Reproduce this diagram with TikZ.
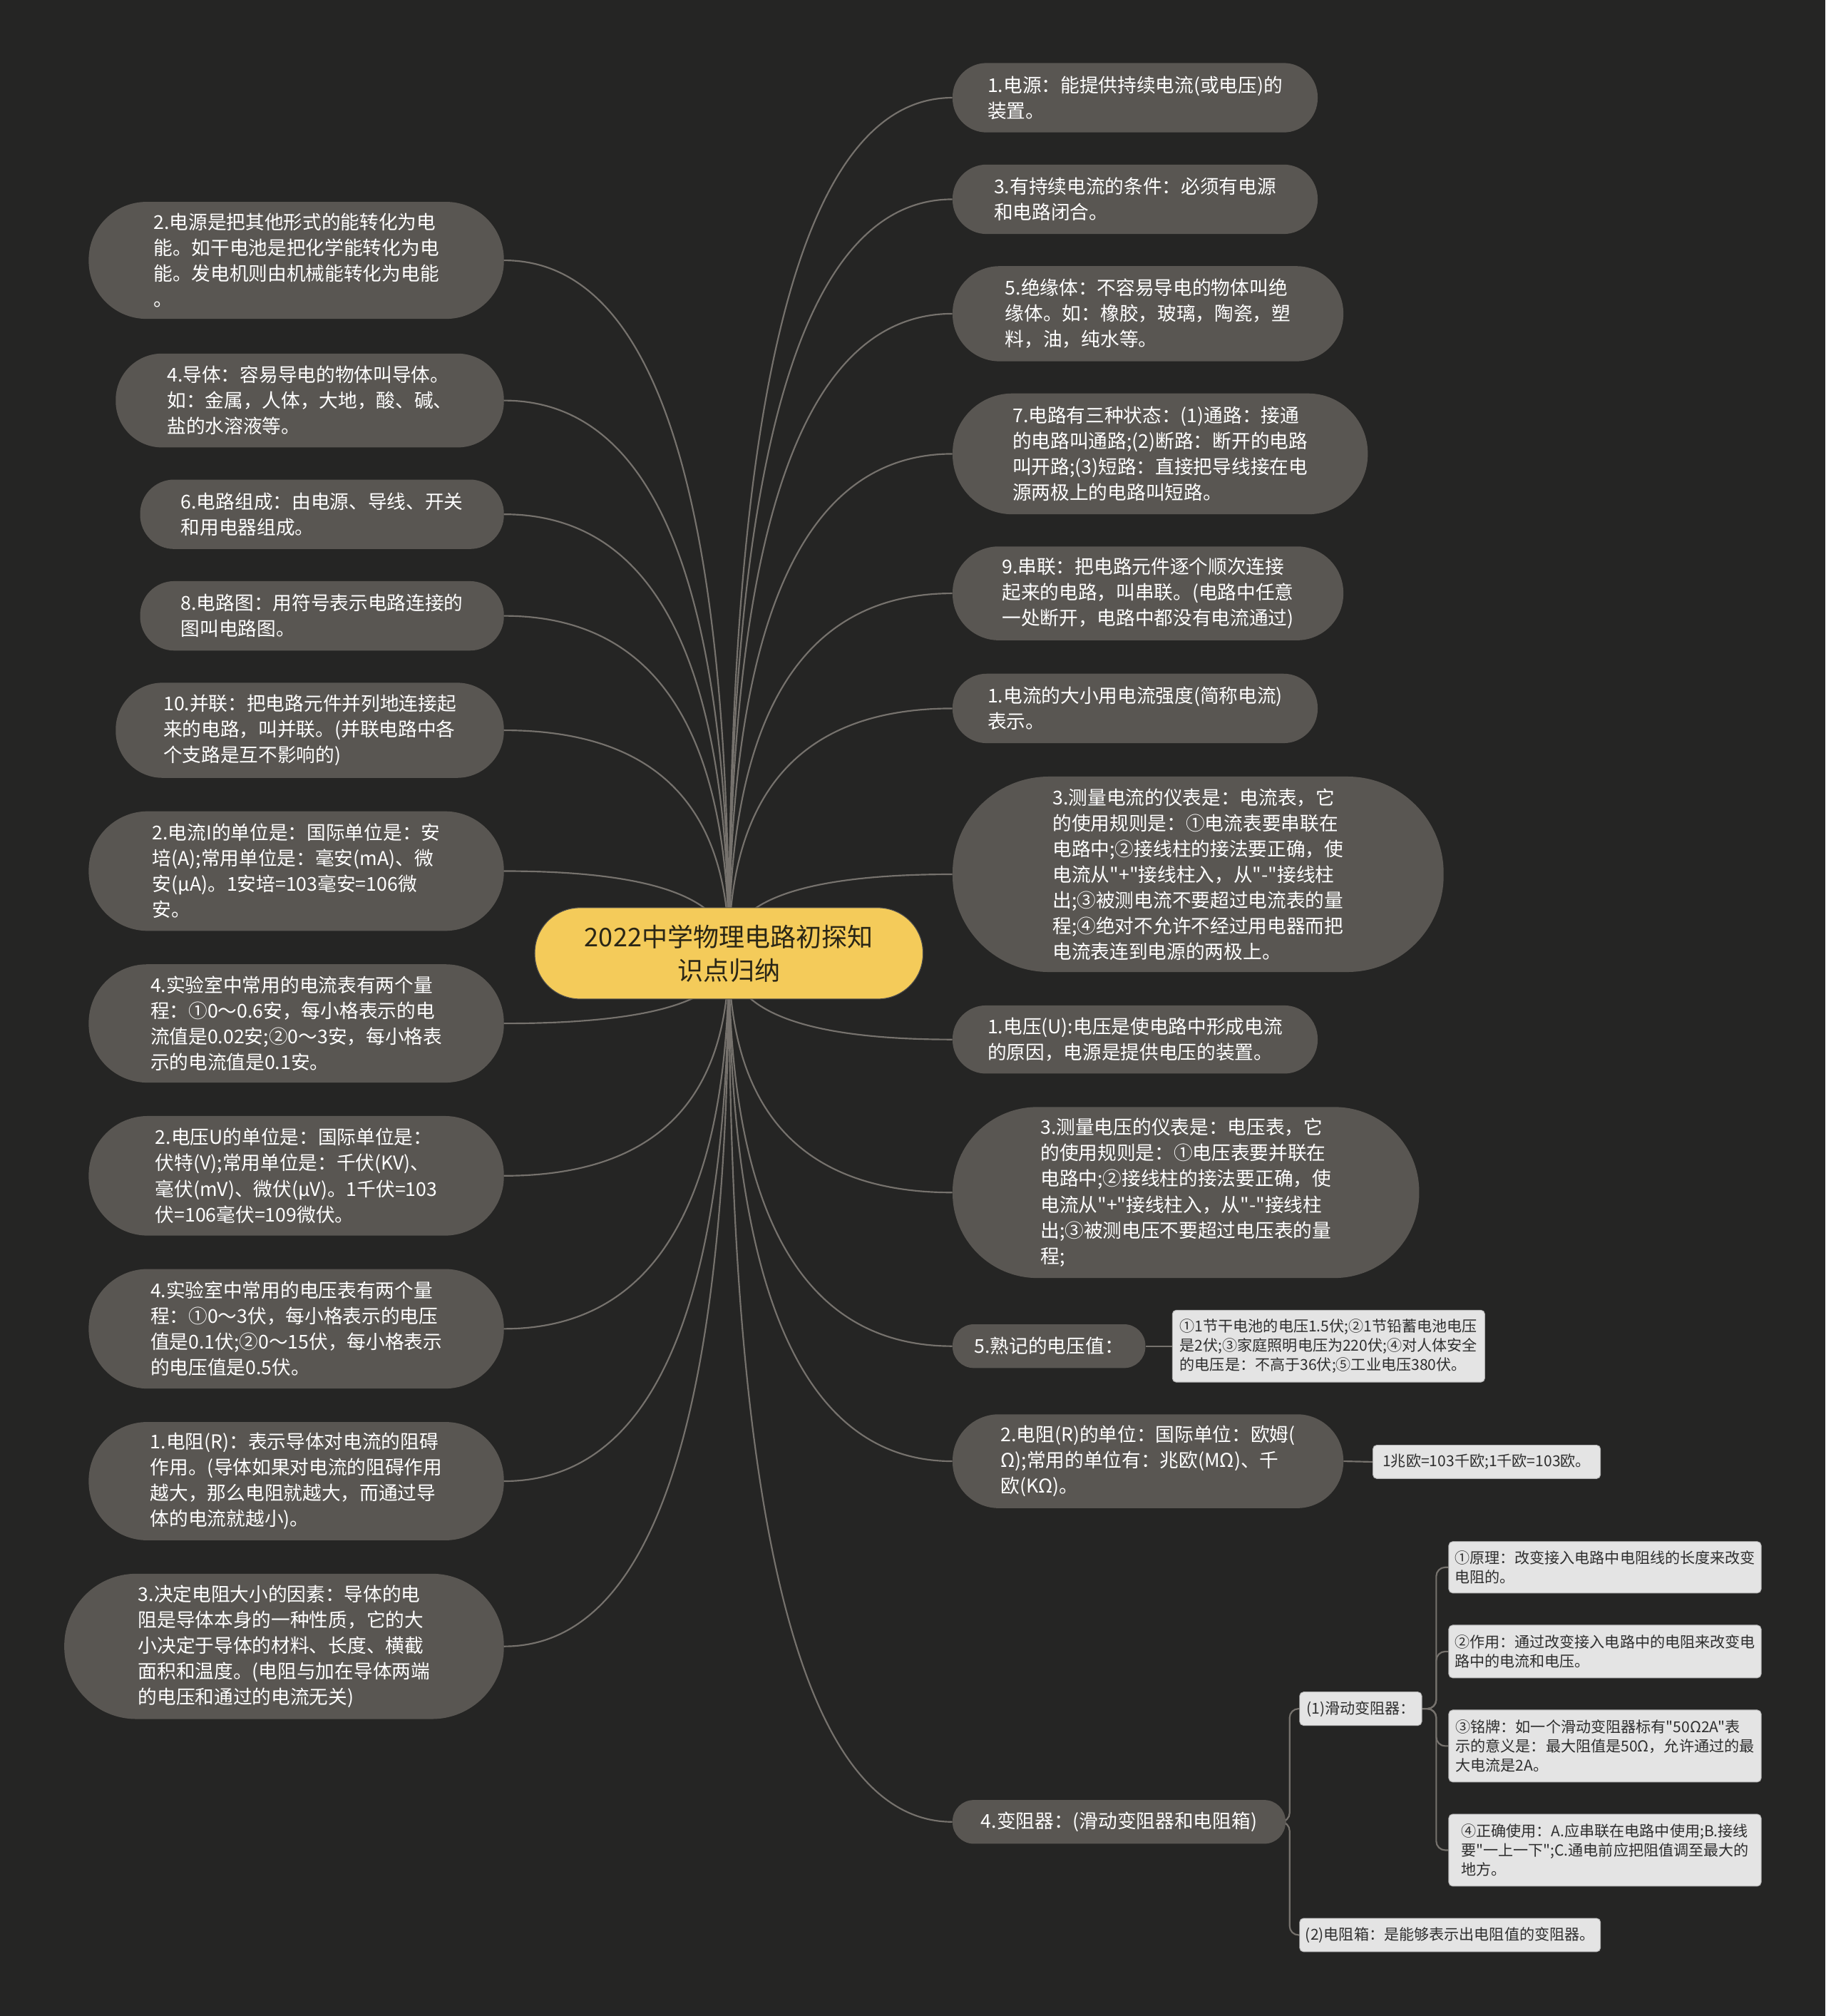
\documentclass[tikz,border=0pt]{standalone}
\usepackage{fontspec}
\setmainfont{Noto Sans CJK SC}[Ligatures=TeXOff]
\usetikzlibrary{calc}
\definecolor{bgc}{HTML}{252524}
\definecolor{boxc}{HTML}{595652}
\definecolor{linec}{HTML}{76726D}
\definecolor{lightc}{HTML}{E4E4E4}
\definecolor{lighttxt}{HTML}{2E2E2E}
\definecolor{rootc}{HTML}{F4CB5A}
\definecolor{roottxt}{HTML}{2A2616}
\pgfdeclarelayer{bg}
\pgfsetlayers{bg,main}
\newcommand\mmlink[2]{\draw[link] (#1) .. controls ($(#1)!0.667!(#1|-#2)$) and ($(#2)!0.667!(#1|-#2)$) .. (#2);}
\begin{document}
\begin{tikzpicture}[x=1pt,y=-1pt,
  mainbox/.style={fill=boxc, text=white, inner sep=0pt, align=left, font=\fontsize{14.8}{20}\selectfont},
  lightbox/.style={fill=lightc, draw=black!30, line width=0.5pt, rounded corners=3pt, text=lighttxt, inner sep=0pt, align=left, font=\fontsize{11.7}{15}\selectfont},
  rootbox/.style={fill=rootc, draw=black!70, line width=0.6pt, text=roottxt, inner sep=0pt, align=center, font=\fontsize{20}{26}\selectfont},
  link/.style={draw=linec, line width=1.2pt},
  sublink/.style={draw=linec, line width=1.2pt, rounded corners=7pt}]
\useasboundingbox (0,0) rectangle (1420,1568);

% root
\node[rootbox, minimum width=302pt, minimum height=71pt, rounded corners=35pt] (C) at (567,741.5) {2022中学物理电路初探知\\识点归纳};

% left branches
\node[mainbox, minimum width=323pt, minimum height=91pt, rounded corners=45pt] (L1) at (230.5,202.5) {2.电源是把其他形式的能转化为电\\能。如干电池是把化学能转化为电\\能。发电机则由机械能转化为电能\\。};
\node[mainbox, minimum width=302pt, minimum height=73pt, rounded corners=36pt] (L2) at (241,311.5) {4.导体：容易导电的物体叫导体。\\如：金属，人体，大地，酸、碱、\\盐的水溶液等。};
\node[mainbox, minimum width=283pt, minimum height=54pt, rounded corners=26.5pt] (L3) at (250.5,400) {6.电路组成：由电源、导线、开关\\和用电器组成。};
\node[mainbox, minimum width=283pt, minimum height=54pt, rounded corners=26.5pt] (L4) at (250.5,479) {8.电路图：用符号表示电路连接的\\图叫电路图。};
\node[mainbox, minimum width=302pt, minimum height=74pt, rounded corners=36.5pt] (L5) at (241,568) {10.并联：把电路元件并列地连接起\\来的电路，叫并联。(并联电路中各\\个支路是互不影响的)};
\node[mainbox, minimum width=323pt, minimum height=93pt, rounded corners=46pt] (L6) at (230.5,677.5) {2.电流I的单位是：国际单位是：安\\培(A);常用单位是：毫安(mA)、微\\安(μA)。1安培=103毫安=106微\\安。};
\node[mainbox, minimum width=323pt, minimum height=92pt, rounded corners=45.5pt] (L7) at (230.5,796) {4.实验室中常用的电流表有两个量\\程：①0～0.6安，每小格表示的电\\流值是0.02安;②0～3安，每小格表\\示的电流值是0.1安。};
\node[mainbox, minimum width=323pt, minimum height=93pt, rounded corners=46pt] (L8) at (230.5,914.5) {2.电压U的单位是：国际单位是：\\伏特(V);常用单位是：千伏(KV)、\\毫伏(mV)、微伏(μV)。1千伏=103\\伏=106毫伏=109微伏。};
\node[mainbox, minimum width=323pt, minimum height=93pt, rounded corners=46pt] (L9) at (230.5,1033.5) {4.实验室中常用的电压表有两个量\\程：①0～3伏，每小格表示的电压\\值是0.1伏;②0～15伏，每小格表示\\的电压值是0.5伏。};
\node[mainbox, minimum width=323pt, minimum height=92pt, rounded corners=45.5pt] (L10) at (230.5,1152) {1.电阻(R)：表示导体对电流的阻碍\\作用。(导体如果对电流的阻碍作用\\越大，那么电阻就越大，而通过导\\体的电流就越小)。};
\node[mainbox, minimum width=342pt, minimum height=113pt, rounded corners=56pt] (L11) at (221,1280.5) {3.决定电阻大小的因素：导体的电\\阻是导体本身的一种性质，它的大\\小决定于导体的材料、长度、横截\\面积和温度。(电阻与加在导体两端\\的电压和通过的电流无关)};

% right branches
\node[mainbox, minimum width=284pt, minimum height=54pt, rounded corners=26.5pt] (R1) at (883,76) {1.电源：能提供持续电流(或电压)的\\装置。};
\node[mainbox, minimum width=284pt, minimum height=54pt, rounded corners=26.5pt] (R2) at (883,155) {3.有持续电流的条件：必须有电源\\和电路闭合。};
\node[mainbox, minimum width=304pt, minimum height=74pt, rounded corners=36.5pt] (R3) at (893,244) {5.绝缘体：不容易导电的物体叫绝\\缘体。如：橡胶，玻璃，陶瓷，塑\\料，油，纯水等。};
\node[mainbox, minimum width=323pt, minimum height=94pt, rounded corners=46.5pt] (R4) at (902.5,353) {7.电路有三种状态：(1)通路：接通\\的电路叫通路;(2)断路：断开的电路\\叫开路;(3)短路：直接把导线接在电\\源两极上的电路叫短路。};
\node[mainbox, minimum width=304pt, minimum height=73pt, rounded corners=36pt] (R5) at (893,461.5) {9.串联：把电路元件逐个顺次连接\\起来的电路，叫串联。(电路中任意\\一处断开，电路中都没有电流通过)};
\node[mainbox, minimum width=284pt, minimum height=54pt, rounded corners=26.5pt] (R6) at (883,551) {1.电流的大小用电流强度(简称电流)\\表示。};
\node[mainbox, minimum width=382pt, minimum height=152pt, rounded corners=75pt] (R7) at (932,680) {3.测量电流的仪表是：电流表，它\\的使用规则是：①电流表要串联在\\电路中;②接线柱的接法要正确，使\\电流从"+"接线柱入，从"-"接线柱\\出;③被测电流不要超过电流表的量\\程;④绝对不允许不经过用电器而把\\电流表连到电源的两极上。};
\node[mainbox, minimum width=284pt, minimum height=53pt, rounded corners=26pt] (R8) at (883,808.5) {1.电压(U):电压是使电路中形成电流\\的原因，电源是提供电压的装置。};
\node[mainbox, minimum width=363pt, minimum height=133pt, rounded corners=66pt] (R9) at (922.5,927.5) {3.测量电压的仪表是：电压表，它\\的使用规则是：①电压表要并联在\\电路中;②接线柱的接法要正确，使\\电流从"+"接线柱入，从"-"接线柱\\出;③被测电压不要超过电压表的量\\程;};
\node[mainbox, minimum width=150pt, minimum height=34pt, rounded corners=16.5pt] (R10) at (816,1047) {5.熟记的电压值：};
\node[lightbox, minimum width=243pt, minimum height=56pt] (R10a) at (1033.5,1047) {①1节干电池的电压1.5伏;②1节铅蓄电池电压\\是2伏;③家庭照明电压为220伏;④对人体安全\\的电压是：不高于36伏;⑤工业电压380伏。};
\node[mainbox, minimum width=304pt, minimum height=73pt, rounded corners=36pt] (R11) at (893,1136.5) {2.电阻(R)的单位：国际单位：欧姆(\\Ω);常用的单位有：兆欧(MΩ)、千\\欧(KΩ)。};
\node[lightbox, minimum width=177pt, minimum height=26pt] (R11a) at (1156.5,1137) {1兆欧=103千欧;1千欧=103欧。};
\node[mainbox, minimum width=259pt, minimum height=34pt, rounded corners=16.5pt] (R12) at (870.5,1417) {4.变阻器：(滑动变阻器和电阻箱)};
\node[lightbox, minimum width=95pt, minimum height=26pt] (R12a) at (1058.5,1329) {(1)滑动变阻器：};
\node[lightbox, minimum width=243pt, minimum height=40pt] (R12a1) at (1248.5,1219) {①原理：改变接入电路中电阻线的长度来改变\\电阻的。};
\node[lightbox, minimum width=243pt, minimum height=41pt] (R12a2) at (1248.5,1284.5) {②作用：通过改变接入电路中的电阻来改变电\\路中的电流和电压。};
\node[lightbox, minimum width=243pt, minimum height=56pt] (R12a3) at (1248.5,1358) {③铭牌：如一个滑动变阻器标有"50Ω2A"表\\示的意义是：最大阻值是50Ω，允许通过的最\\大电流是2A。};
\node[lightbox, minimum width=243pt, minimum height=56pt] (R12a4) at (1248.5,1439) {④正确使用：A.应串联在电路中使用;B.接线\\要"一上一下";C.通电前应把阻值调至最大的\\地方。};
\node[lightbox, minimum width=234pt, minimum height=26pt] (R12b) at (1128,1505) {(2)电阻箱：是能够表示出电阻值的变阻器。};

\begin{pgfonlayer}{bg}
\fill[bgc] (0,0) rectangle (1420,1568);
\foreach \n in {L1,L2,L3,L4,L5,L6,L7,L8,L9,L10,L11} {\mmlink{C.center}{\n.east}}
\foreach \n in {R1,R2,R3,R4,R5,R6,R7,R8,R9,R10,R11,R12} {\mmlink{C.center}{\n.west}}
\draw[link] (R10.east) -- (R10a.west);
\draw[link] (R11.east) -- (R11a.west);
\coordinate (s1) at ([xshift=3pt]R12.east);
\draw[sublink] (R12.east) -- (s1) |- (R12a.west);
\draw[sublink] (R12.east) -- (s1) |- (R12b.west);
\coordinate (s2) at ([xshift=11pt]R12a.east);
\foreach \n in {R12a1,R12a2,R12a3,R12a4} {\draw[sublink] (R12a.east) -- (s2) |- (\n.west);}
\end{pgfonlayer}
\end{tikzpicture}
\end{document}
